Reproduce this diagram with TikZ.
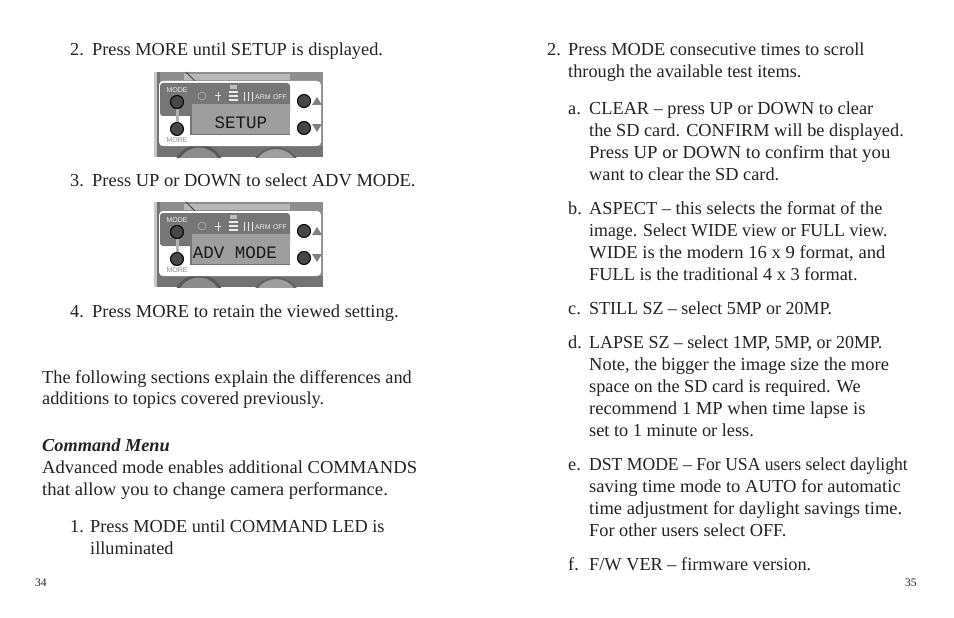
\documentclass[tikz,border=0pt]{standalone}
\usepackage{fontspec}
\setmainfont{Liberation Serif}
\newfontfamily\lcdfont{Liberation Mono}
\newfontfamily\labelfont{Liberation Sans}
\definecolor{ink}{HTML}{232323}
\definecolor{panelgrey}{HTML}{767676}
\definecolor{bodygrey}{HTML}{8E8E8E}
\definecolor{lcdgrey}{HTML}{9E9E9E}
\tikzset{
    txt/.style={anchor=base west,inner sep=0pt,yshift=-0.6pt,text=ink,font=\fontsize{18.3}{21}\selectfont},
    pageno/.style={anchor=base west,inner sep=0pt,text=ink,font=\fontsize{11.5}{13}\selectfont},
    btn/.style={circle,draw=black,line width=1pt,fill=black!72,minimum size=13pt,inner sep=0pt},
    silk/.style={inner sep=0pt,text=white!92!black,font=\labelfont\fontsize{7}{8}\selectfont},
    lcd/.style={inner sep=0pt,text=black!90,font=\lcdfont\fontsize{17.5}{20}\selectfont},
}
\newcommand{\numlabel}[2]{\makebox[#1pt][l]{#2}}
\newcommand{\squeeze}[2]{\scalebox{#1}[1]{#2}}
% photo of the control panel: #1 name, #2 y of the top edge, #3 x of the display text, #4 display text
\newcommand{\camerapanel}[4]{
\begin{scope}[shift={(154,#2)}]
    \begin{scope}
    \clip(0,0)rectangle(169,85);
    \fill[bodygrey](0,0)rectangle(169,85);
    \fill[black!22](0,0)rectangle(3,85);
    \fill[black!55](3,0)rectangle(6,85);
    \fill[black!28](30,2)rectangle(136,8);
    \draw[black!75,line width=0.8pt](32,0)--(42,10);
    \fill[black!55](6,74)rectangle(169,85);
    \draw[black!65,fill=black!45,line width=3pt](45,98)circle(24);
    \draw[black!62,fill=black!38,line width=2pt](122,100)circle(24);
    \end{scope}
    \fill[white,rounded corners=4pt](5,9)rectangle(167,74);
    \fill[panelgrey,rounded corners=3pt](6,44)--(6,11)--(136,11)--(136,44)--cycle;
    \fill[panelgrey](36,40)rectangle(136,63);
    \fill[lcdgrey](38,32)rectangle(136,62);
    \fill[black!30](22,36)rectangle(24.5,50);
    \node[btn](#1mode)at(23,30){};
    \node[btn](#1more)at(23,57){};
    \node[btn](#1up)at(150,29){};
    \node[btn](#1down)at(150,56){};
    \fill[black!50](168,33)--(158,33)--(163,25)--cycle;
    \fill[black!50](158,52)--(168,52)--(163,60)--cycle;
    \node[silk](#1modetxt)at(23,18.5){MODE};
    \node[silk,text=black!45](#1moretxt)at(23,68){MORE};
    \draw[white!70!black,line width=0.6pt](48,24)circle(4);
    \draw[white!90!black,line width=1pt](64,20)--(64,29)(61,24)--(67,24);
    \draw[white!92!black,line width=1.4pt](75,20)--(84,20)(75,24)--(84,24)(75,28)--(84,28);
    \fill[white!75!black](76,13)rectangle(83,17);
    \draw[white!92!black,line width=1pt](90,20)--(90,29)(94,20)--(94,29)(98,20)--(98,29);
    \node[silk](#1arm)at(109,25){ARM};
    \node[silk](#1off)at(126,25){OFF};
    \node[lcd](#1lcd)at(#3,51){#4};
\end{scope}
}
\begin{document}
\begin{tikzpicture}[x=1pt,y=-1pt]
    \useasboundingbox(0,0)rectangle(954,618);
    \fill[white](0,0)rectangle(954,618);

    \node[txt](a2)at(70,55){\numlabel{22}{2.}Press MORE until SETUP is displayed.};
    \camerapanel{setup}{72}{87}{SETUP}
    \node[txt](a3)at(70,186){\numlabel{22}{3.}\squeeze{1.01}{Press UP or DOWN to select ADV MODE.}};
    \camerapanel{adv}{202}{81}{ADV MODE}
    \node[txt](a4)at(70,317){\numlabel{22}{4.}\squeeze{1.01}{Press MORE to retain the viewed setting.}};

    \node[txt](p1)at(42,383){The following sections explain the differences and};
    \node[txt](p2)at(42,404){additions to topics covered previously.};

    \node[txt,font=\fontsize{18.3}{21}\selectfont\bfseries\itshape](cm)at(42,451){Command Menu};
    \node[txt](p3)at(42,473){\squeeze{1.016}{Advanced mode enables additional COMMANDS}};
    \node[txt](p4)at(42,495){\squeeze{1.02}{that allow you to change camera performance.}};

    \node[txt](c1)at(70,532){\numlabel{20}{1.}Press MODE until COMMAND LED is};
    \node[txt](c1b)at(90,554){illuminated};
    \node[pageno](pl)at(35,586){34};

    \node[txt](b2)at(547,55){\numlabel{21}{2.}Press MODE consecutive times to scroll};
    \node[txt](b2b)at(568,77){through the available test items.};

    \node[txt](ba)at(568,114){\numlabel{21}{a.}CLEAR – press UP or DOWN to clear};
    \node[txt](ba2)at(589,136){the SD card. CONFIRM will be displayed.};
    \node[txt](ba3)at(589,158){\squeeze{1.027}{Press UP or DOWN to confirm that you}};
    \node[txt](ba4)at(589,180){want to clear the SD card.};

    \node[txt](bb)at(568,214){\numlabel{21}{b.}ASPECT – this selects the format of the};
    \node[txt](bb2)at(589,236){\squeeze{0.974}{image. Select WIDE view or FULL view.}};
    \node[txt](bb3)at(589,258){\squeeze{1.017}{WIDE is the modern 16 x 9 format, and}};
    \node[txt](bb4)at(589,280){FULL is the traditional 4 x 3 format.};

    \node[txt](bc)at(568,314){\numlabel{21}{c.}\squeeze{0.981}{STILL SZ – select 5MP or 20MP.}};

    \node[txt](bd)at(568,348){\numlabel{21}{d.}\squeeze{0.981}{LAPSE SZ – select 1MP, 5MP, or 20MP.}};
    \node[txt](bd2)at(589,370){\squeeze{1.01}{Note, the bigger the image size the more}};
    \node[txt](bd3)at(589,392){space on the SD card is required. We};
    \node[txt](bd4)at(589,414){\squeeze{1.018}{recommend 1 MP when time lapse is}};
    \node[txt](bd5)at(589,436){set to 1 minute or less.};

    \node[txt](be)at(568,470){\numlabel{21}{e.}\squeeze{0.963}{DST MODE – For USA users select daylight}};
    \node[txt](be2)at(589,492){\squeeze{1.016}{saving time mode to AUTO for automatic}};
    \node[txt](be3)at(589,514){\squeeze{1.013}{time adjustment for daylight savings time.}};
    \node[txt](be4)at(589,536){For other users select OFF.};

    \node[txt](bf)at(568,570){\numlabel{21}{f.}F/W VER – firmware version.};
    \node[pageno](pr)at(905,586){35};
\end{tikzpicture}
\end{document}
